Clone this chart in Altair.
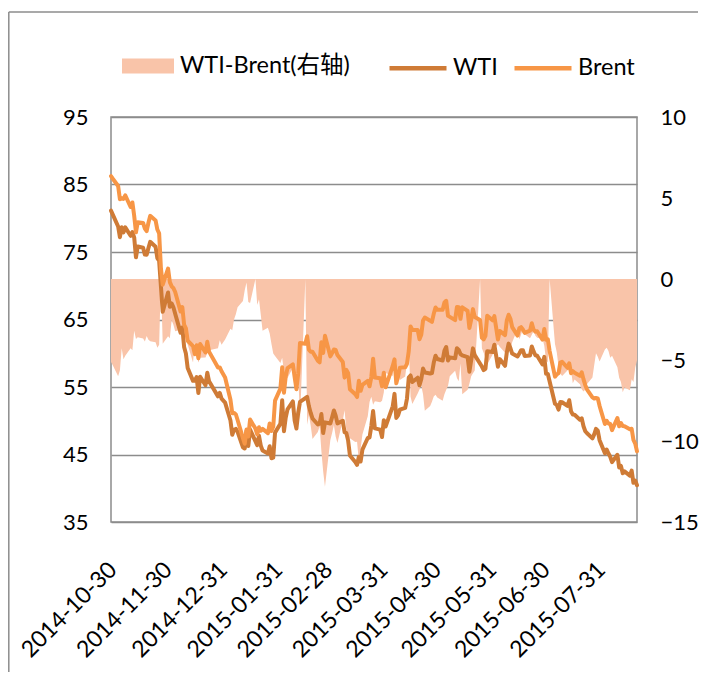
import altair as alt
import pandas as pd

FONT = "Lato, 'Noto Sans CJK SC', sans-serif"

dates = [
    "2014-10-30", "2014-10-31", "2014-11-03", "2014-11-04", "2014-11-05", "2014-11-06", "2014-11-07",
    "2014-11-10", "2014-11-11", "2014-11-12", "2014-11-13", "2014-11-14", "2014-11-17", "2014-11-18",
    "2014-11-19", "2014-11-20", "2014-11-21", "2014-11-24", "2014-11-25", "2014-11-26", "2014-11-27",
    "2014-11-28", "2014-12-01", "2014-12-02", "2014-12-03", "2014-12-04", "2014-12-05", "2014-12-08",
    "2014-12-09", "2014-12-10", "2014-12-11", "2014-12-12", "2014-12-15", "2014-12-16", "2014-12-17",
    "2014-12-18", "2014-12-19", "2014-12-22", "2014-12-23", "2014-12-24", "2014-12-29", "2014-12-30",
    "2014-12-31", "2015-01-02", "2015-01-05", "2015-01-06", "2015-01-07", "2015-01-08", "2015-01-09",
    "2015-01-12", "2015-01-13", "2015-01-14", "2015-01-15", "2015-01-16", "2015-01-19", "2015-01-20",
    "2015-01-21", "2015-01-22", "2015-01-23", "2015-01-26", "2015-01-27", "2015-01-28", "2015-01-29",
    "2015-01-30", "2015-02-02", "2015-02-03", "2015-02-04", "2015-02-05", "2015-02-06", "2015-02-09",
    "2015-02-10", "2015-02-11", "2015-02-12", "2015-02-13", "2015-02-16", "2015-02-17", "2015-02-18",
    "2015-02-19", "2015-02-20", "2015-02-23", "2015-02-24", "2015-02-25", "2015-02-26", "2015-02-27",
    "2015-03-02", "2015-03-03", "2015-03-04", "2015-03-05", "2015-03-06", "2015-03-09", "2015-03-10",
    "2015-03-11", "2015-03-12", "2015-03-13", "2015-03-16", "2015-03-17", "2015-03-18", "2015-03-19",
    "2015-03-20", "2015-03-23", "2015-03-24", "2015-03-25", "2015-03-26", "2015-03-27", "2015-03-30",
    "2015-03-31", "2015-04-01", "2015-04-02", "2015-04-06", "2015-04-07", "2015-04-08", "2015-04-09",
    "2015-04-10", "2015-04-13", "2015-04-14", "2015-04-15", "2015-04-16", "2015-04-17", "2015-04-20",
    "2015-04-21", "2015-04-22", "2015-04-23", "2015-04-24", "2015-04-27", "2015-04-28", "2015-04-29",
    "2015-04-30", "2015-05-01", "2015-05-04", "2015-05-05", "2015-05-06", "2015-05-07", "2015-05-08",
    "2015-05-11", "2015-05-12", "2015-05-13", "2015-05-14", "2015-05-15", "2015-05-18", "2015-05-19",
    "2015-05-20", "2015-05-21", "2015-05-22", "2015-05-25", "2015-05-26", "2015-05-27", "2015-05-28",
    "2015-05-29", "2015-06-01", "2015-06-02", "2015-06-03", "2015-06-04", "2015-06-05", "2015-06-08",
    "2015-06-09", "2015-06-10", "2015-06-11", "2015-06-12", "2015-06-15", "2015-06-16", "2015-06-17",
    "2015-06-18", "2015-06-19", "2015-06-22", "2015-06-23", "2015-06-24", "2015-06-25", "2015-06-26",
    "2015-06-29", "2015-06-30", "2015-07-01", "2015-07-02", "2015-07-03", "2015-07-06", "2015-07-07",
    "2015-07-08", "2015-07-09", "2015-07-10", "2015-07-13", "2015-07-14", "2015-07-15", "2015-07-16",
    "2015-07-17", "2015-07-20", "2015-07-21", "2015-07-22", "2015-07-23", "2015-07-24", "2015-07-27",
    "2015-07-28", "2015-07-29", "2015-07-30", "2015-07-31", "2015-08-03", "2015-08-04", "2015-08-05",
    "2015-08-06", "2015-08-07", "2015-08-10", "2015-08-11", "2015-08-12", "2015-08-13", "2015-08-14",
    "2015-08-17", "2015-08-18", "2015-08-19", "2015-08-20", "2015-08-21",
]

wti = [
    81.12, 80.54, 78.78, 77.19, 78.68, 77.91, 78.65,
    77.40, 77.94, 77.18, 74.21, 75.82, 75.64, 74.61,
    74.58, 75.58, 76.51, 75.78, 74.09, 73.69, None,
    66.15, 69.00, 66.88, 67.38, 66.81, 65.84, 63.05,
    63.82, 60.94, 59.95, 57.81, 55.91, 55.93, 56.47,
    54.11, 56.52, 55.26, 57.12, 55.84, 53.61, 54.12,
    53.27, 52.69, 50.04, 47.93, 48.65, 48.79, 48.36,
    46.07, 45.89, 48.48, 46.25, 48.69, None, 46.39,
    47.78, 46.31, 45.59, 45.15, 46.23, 44.45, 44.53,
    48.24, 49.57, 53.05, 48.45, 50.48, 51.69, 52.86,
    50.02, 48.84, 51.21, 52.78, None, 53.53, 52.14,
    51.16, 50.34, 49.45, 49.56, 50.99, 48.17, 49.76,
    49.59, 50.52, 51.53, 50.76, 49.61, 50.00, 48.29,
    48.17, 47.05, 44.84, 43.88, 43.46, 44.66, 43.96,
    45.72, 47.45, 47.51, 49.21, 51.43, 48.87, 48.68,
    47.60, 50.09, 49.14, 52.14, 53.98, 50.42, 50.79,
    51.64, 51.91, 53.29, 56.39, 56.71, 55.74, 56.38,
    55.26, 56.16, 57.74, 57.15, 56.99, 57.06, 58.58,
    59.63, 59.15, 58.93, 60.40, 60.93, 58.94, 59.39,
    59.25, 60.75, 60.50, 59.88, 59.69, 59.43, 57.26,
    58.98, 60.72, 59.72, None, 58.03, 57.51, 57.68,
    60.30, 60.20, 61.26, 59.64, 58.00, 59.13, 58.14,
    60.14, 61.43, 60.77, 59.96, 59.52, 59.97, 60.45,
    60.45, 59.61, 59.68, 61.01, 60.27, 59.70, 59.63,
    58.33, 59.47, 56.96, 56.93, None, 52.53, 52.33,
    51.65, 52.78, 52.74, 52.20, 53.04, 51.41, 50.91,
    50.89, 50.15, 50.36, 49.19, 48.45, 48.14, 47.39,
    47.98, 48.79, 48.52, 47.12, 45.17, 45.74, 45.15,
    44.66, 43.87, 44.96, 43.08, 43.30, 42.23, 42.50,
    41.87, 42.62, 40.80, 41.14, 40.45,
]

brent = [
    86.24, 85.86, 84.78, 82.82, 82.95, 82.86, 83.39,
    81.67, 82.34, 80.38, 77.92, 79.41, 79.31, 78.47,
    78.10, 79.33, 80.36, 79.68, 78.33, 77.75, 72.58,
    70.15, 72.54, 70.54, 69.92, 69.64, 69.07, 66.19,
    66.84, 64.24, 63.68, 61.85, 61.06, 59.86, 61.18,
    59.27, 61.38, 60.11, 61.69, 60.24, 57.88, 57.90,
    57.33, 56.42, 53.11, 51.10, 51.15, 50.96, 50.11,
    47.43, 46.59, 48.69, 47.67, 50.17, 48.84, 47.99,
    49.03, 48.52, 48.79, 48.16, 49.60, 48.47, 49.13,
    52.99, 54.75, 57.91, 54.16, 56.57, 57.80, 58.34,
    56.43, 54.66, 57.05, 61.52, 61.40, 62.53, 60.53,
    60.21, 60.22, 58.90, 58.66, 61.63, 60.05, 62.58,
    59.54, 60.02, 60.55, 60.48, 59.73, 58.71, 56.39,
    57.54, 57.05, 54.67, 53.94, 53.51, 55.91, 54.43,
    55.32, 55.92, 55.11, 56.48, 59.19, 56.41, 56.29,
    55.11, 57.10, 54.95, 58.12, 59.10, 55.55, 56.57,
    57.87, 57.93, 58.43, 60.32, 63.98, 63.45, 63.45,
    62.08, 62.73, 64.85, 65.28, 64.83, 64.64, 65.84,
    66.78, 66.46, 66.45, 67.52, 67.77, 65.54, 65.39,
    64.91, 66.86, 66.81, 65.10, 66.81, 66.27, 63.73,
    64.98, 66.54, 65.37, 64.94, 62.30, 62.06, 62.58,
    65.56, 64.88, 65.49, 63.80, 62.03, 63.31, 62.69,
    64.88, 65.70, 65.11, 63.87, 62.61, 63.70, 63.87,
    63.52, 63.02, 63.34, 64.45, 63.49, 63.20, 63.26,
    62.01, 63.59, 62.01, 62.07, 60.32, 56.54, 56.85,
    57.05, 58.61, 58.73, 57.85, 58.51, 57.05, 57.35,
    57.10, 56.65, 57.17, 56.13, 55.27, 54.62, 53.47,
    53.30, 53.38, 53.32, 52.21, 49.52, 49.99, 49.59,
    49.52, 48.61, 50.41, 49.18, 49.66, 49.22, 49.19,
    48.74, 48.81, 47.16, 46.62, 45.46,
]

spread = [
    -5.12, -5.32, -6.00, -5.63, -4.27, -4.95, -4.74,
    -4.27, -4.40, -3.20, -3.71, -3.59, -3.67, -3.86,
    -3.52, -3.75, -3.85, -3.90, -4.24, -4.06, 0.00,
    -4.00, -3.54, -3.66, -2.54, -2.83, -3.23, -3.14,
    -3.02, -3.30, -3.73, -4.04, -5.15, -3.93, -4.71,
    -5.16, -4.86, -4.85, -4.57, -4.40, -4.27, -3.78,
    -4.06, -3.73, -3.07, -3.17, -2.50, -2.17, -1.75,
    -1.36, -0.70, -0.21, -1.42, -1.48, 0.00, -1.60,
    -1.25, -2.21, -3.20, -3.01, -3.37, -4.02, -4.60,
    -4.75, -5.18, -4.86, -5.71, -6.09, -6.11, -5.48,
    -6.41, -5.82, -5.84, -8.74, 0.00, -9.00, -8.39,
    -9.05, -9.88, -9.45, -9.10, -10.64, -11.88, -12.82,
    -9.95, -9.50, -9.02, -9.72, -10.12, -8.71, -8.10,
    -9.37, -10.00, -9.83, -10.06, -10.05, -11.25, -10.47,
    -9.60, -8.47, -7.60, -7.27, -7.76, -7.54, -7.61,
    -7.51, -7.01, -5.81, -5.98, -5.12, -5.13, -5.78,
    -6.23, -6.02, -5.14, -3.93, -7.27, -7.71, -7.07,
    -6.82, -6.57, -7.11, -8.13, -7.84, -7.58, -7.26,
    -7.15, -7.31, -7.52, -7.12, -6.84, -6.60, -6.00,
    -5.66, -6.11, -6.31, -5.22, -7.12, -6.84, -6.47,
    -6.00, -5.82, -5.65, 0.00, -4.27, -4.55, -4.90,
    -5.26, -4.68, -4.23, -4.16, -4.03, -4.18, -4.55,
    -4.74, -4.27, -4.34, -3.91, -3.09, -3.73, -3.42,
    -3.07, -3.41, -3.66, -3.44, -3.22, -3.50, -3.63,
    -3.68, -4.12, -5.05, -5.14, 0.00, -4.01, -4.52,
    -5.40, -5.83, -5.99, -5.65, -5.47, -5.64, -6.44,
    -6.21, -6.50, -6.81, -6.94, -6.82, -6.48, -6.08,
    -5.32, -4.59, -4.80, -5.09, -4.35, -4.25, -4.44,
    -4.86, -4.74, -5.45, -6.10, -6.36, -6.99, -6.69,
    -6.87, -6.19, -6.36, -5.48, -5.01,
]

tick_dates = [
    "2014-10-30", "2014-11-30", "2014-12-31", "2015-01-31", "2015-02-28",
    "2015-03-31", "2015-04-30", "2015-05-31", "2015-06-30", "2015-07-31",
]
left_ticks = [35, 45, 55, 65, 75, 85, 95]
right_ticks = [-15, -10, -5, 0, 5, 10]
spread_name = "WTI-Brent(右轴)"
line_names = ["WTI", "Brent"]

PINK = "#F9C4A9"
WTI_C = "#CF7B36"
BRENT_C = "#F79646"
GRID = "#8c8c8c"


def dt(s):
    y, m, d = (int(p) for p in s.split("-"))
    return alt.DateTime(year=y, month=m, date=d, utc=True)


df = pd.DataFrame({"date": dates, "WTI": wti, "Brent": brent, "spread": spread})

x_enc = alt.X(
    "date:T",
    scale=alt.Scale(type="utc", domain=[dt(dates[0]), dt(dates[-1])]),
    axis=alt.Axis(
        values=[dt(s) for s in tick_dates],
        labelExpr="utcFormat(datum.value, '%Y-%m-%d')",
        labelAngle=315,
        labelAlign="right",
        labelBaseline="top",
        labelPadding=36,
        labelOffset=-6,
        labelFlush=False,
        labelOverlap=False,
        labelFontSize=23,
        ticks=False,
        domain=False,
        grid=False,
        title=None,
    ),
)

area = (
    alt.Chart(df)
    .transform_calculate(series=f'"{spread_name}"')
    .mark_area(interpolate="linear", opacity=1)
    .encode(
        x=x_enc,
        y=alt.Y(
            "spread:Q",
            scale=alt.Scale(domain=[-15, 10], nice=False, zero=False),
            axis=alt.Axis(
                values=right_ticks,
                orient="right",
                grid=False,
                ticks=False,
                domain=False,
                labelPadding=23,
                title=None,
            ),
        ),
        y2=alt.datum(0),
        fill=alt.Fill(
            "series:N",
            scale=alt.Scale(domain=[spread_name], range=[PINK]),
            legend=alt.Legend(
                orient="none",
                legendX=11,
                legendY=-77,
                title=None,
                direction="horizontal",
                symbolType="M-1,-0.29L1,-0.29L1,0.29L-1,0.29Z",
                symbolSize=2704,
                symbolStrokeWidth=0,
                symbolOpacity=1,
                labelOffset=6,
                labelLimit=400,
                padding=0,
                labelFontSize=23.5,
                labelFont=FONT,
                labelColor="black",
            ),
        ),
    )
)

y_left = alt.Y(
    "value:Q",
    scale=alt.Scale(domain=[35, 95], nice=False, zero=False),
    axis=alt.Axis(
        values=left_ticks,
        orient="left",
        grid=True,
        gridColor=GRID,
        gridWidth=1.5,
        ticks=False,
        domain=False,
        labelPadding=23,
        title=None,
    ),
)
stroke_enc = alt.Stroke(
    "series:N",
    scale=alt.Scale(domain=line_names, range=[WTI_C, BRENT_C]),
    legend=alt.Legend(
        orient="none",
        legendX=276,
        legendY=-80,
        title=None,
        direction="horizontal",
        symbolType="stroke",
        symbolSize=3249,
        symbolStrokeWidth=4.5,
        labelOffset=4,
        labelLimit=400,
        columnPadding=7,
        padding=0,
        labelFontSize=23.5,
        labelFont=FONT,
        labelColor="black",
    ),
)

base = alt.Chart(df).transform_fold(line_names, as_=["series", "value"])
wti_line = (
    base.transform_filter("datum.series == 'WTI' && isValid(datum.value)")
    .mark_line(strokeWidth=4, strokeJoin="round", strokeCap="round")
    .encode(x=x_enc, y=y_left, stroke=stroke_enc)
)
brent_line = (
    base.transform_filter("datum.series == 'Brent' && isValid(datum.value)")
    .mark_line(strokeWidth=4, strokeJoin="round", strokeCap="round")
    .encode(x=x_enc, y=y_left, stroke=stroke_enc)
)

# outer chart-area border (only its top and left edges fall inside the picture)
frame_src = pd.DataFrame({"k": [0]})
frame_top = (
    alt.Chart(frame_src)
    .mark_rule(stroke=GRID, strokeWidth=1.5)
    .encode(x=alt.value(-102.2), x2=alt.value(587), y=alt.value(-105))
)
frame_left = (
    alt.Chart(frame_src)
    .mark_rule(stroke=GRID, strokeWidth=1.5)
    .encode(x=alt.value(-102.2), y=alt.value(-105), y2=alt.value(555))
)

chart = (
    alt.layer(frame_top, frame_left, area, alt.layer(wti_line, brent_line))
    .resolve_scale(y="independent")
    .properties(
        width=526,
        height=405,
        autosize=alt.AutoSizeParams(type="none"),
        padding={"left": 103, "top": 109, "right": 62, "bottom": 150},
        background="white",
    )
    .configure_view(stroke=GRID, strokeWidth=1.5)
    .configure_axis(labelFont=FONT, labelFontSize=22, labelColor="black")
)

chart.save("out.html", embed_options={"renderer": "svg", "actions": False})
